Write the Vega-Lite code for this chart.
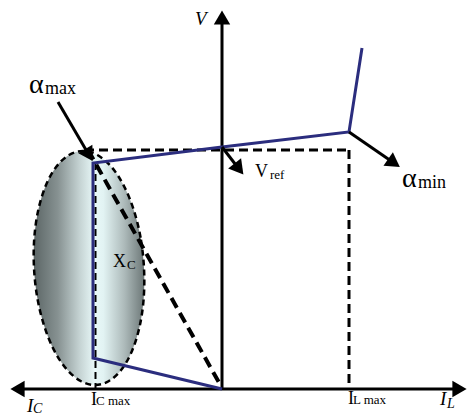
{
  "$schema": "https://vega.github.io/schema/vega-lite/v6.json",
  "width": 467,
  "height": 417,
  "padding": 0,
  "autosize": {"type": "fit", "contains": "padding"},
  "background": "white",
  "config": {"view": {"stroke": null}},
  "datasets": {
    "ellipse": [
      {"o": 0, "x": -78, "y": 121},
      {"o": 1, "x": -81.4, "y": 151.3},
      {"o": 2, "x": -88.4, "y": 179.5},
      {"o": 3, "x": -98.4, "y": 203.7},
      {"o": 4, "x": -110.7, "y": 222.3},
      {"o": 5, "x": -124.6, "y": 234},
      {"o": 6, "x": -139, "y": 238},
      {"o": 7, "x": -153, "y": 234},
      {"o": 8, "x": -165.7, "y": 222.3},
      {"o": 9, "x": -176.1, "y": 203.7},
      {"o": 10, "x": -183.6, "y": 179.5},
      {"o": 11, "x": -187.7, "y": 151.3},
      {"o": 12, "x": -188, "y": 121},
      {"o": 13, "x": -184.6, "y": 90.7},
      {"o": 14, "x": -177.6, "y": 62.5},
      {"o": 15, "x": -167.7, "y": 38.3},
      {"o": 16, "x": -155.3, "y": 19.7},
      {"o": 17, "x": -141.4, "y": 8},
      {"o": 18, "x": -127, "y": 4},
      {"o": 19, "x": -113, "y": 8},
      {"o": 20, "x": -100.3, "y": 19.7},
      {"o": 21, "x": -89.9, "y": 38.3},
      {"o": 22, "x": -82.4, "y": 62.5},
      {"o": 23, "x": -78.3, "y": 90.7}
    ],
    "dashed": [
      {"seg": "vref", "o": 0, "x": -137, "y": 239},
      {"seg": "vref", "o": 1, "x": 127, "y": 239},
      {"seg": "ilmax", "o": 0, "x": 127, "y": 239},
      {"seg": "ilmax", "o": 1, "x": 127, "y": 0}
    ],
    "thindashed": [
      {"seg": "icmax", "o": 0, "x": -126.5, "y": 226},
      {"seg": "icmax", "o": 1, "x": -126.5, "y": 0}
    ],
    "diagonal": [
      {"o": 0, "x": -134, "y": 239},
      {"o": 1, "x": -1, "y": 3}
    ],
    "axes": [
      {"seg": "I", "o": 0, "x": -200, "y": 0},
      {"seg": "I", "o": 1, "x": 232, "y": 0},
      {"seg": "V", "o": 0, "x": 0, "y": 0},
      {"seg": "V", "o": 1, "x": 0, "y": 366}
    ],
    "characteristic": [
      {"o": 0, "x": 0, "y": 0},
      {"o": 1, "x": -129, "y": 31},
      {"o": 2, "x": -129, "y": 226},
      {"o": 3, "x": 0, "y": 242},
      {"o": 4, "x": 127, "y": 257},
      {"o": 5, "x": 140, "y": 341}
    ],
    "shafts": [
      {"seg": "amax", "o": 0, "x": -164, "y": 287},
      {"seg": "amax", "o": 1, "x": -133, "y": 234},
      {"seg": "vref", "o": 0, "x": 0, "y": 242},
      {"seg": "vref", "o": 1, "x": 17, "y": 220},
      {"seg": "amin", "o": 0, "x": 127, "y": 257},
      {"seg": "amin", "o": 1, "x": 172, "y": 226}
    ],
    "heads": [
      {"x": -204.5, "y": 0, "angle": 270},
      {"x": 237.5, "y": 0, "angle": 90},
      {"x": 0, "y": 371.5, "angle": 0},
      {"x": -133, "y": 234, "angle": 149},
      {"x": 17, "y": 220, "angle": 142},
      {"x": 172, "y": 226, "angle": 125}
    ],
    "labels": [
      {"role": "big", "label": "α", "x": -193, "y": 296},
      {"role": "sub", "label": "max", "x": -177, "y": 295},
      {"role": "big", "label": "α", "x": 180, "y": 202},
      {"role": "sub", "label": "min", "x": 196, "y": 201},
      {"role": "mid", "label": "V", "x": 33, "y": 212},
      {"role": "small", "label": "ref", "x": 48, "y": 210},
      {"role": "mid", "label": "X", "x": -109, "y": 122},
      {"role": "small", "label": "C", "x": -95, "y": 120},
      {"role": "ital", "label": "V", "x": -27, "y": 364},
      {"role": "ital", "label": "I", "x": -195, "y": -23},
      {"role": "italsub", "label": "C", "x": -189, "y": -24},
      {"role": "mid", "label": "I", "x": -131, "y": -16},
      {"role": "small", "label": "C  max", "x": -126, "y": -16},
      {"role": "mid", "label": "I", "x": 126, "y": -15},
      {"role": "small", "label": "L max", "x": 131, "y": -15},
      {"role": "ital", "label": "I", "x": 218, "y": -16},
      {"role": "italsub", "label": "L", "x": 225, "y": -19}
    ]
  },
  "encoding": {
    "x": {"field": "x", "type": "quantitative", "axis": null, "scale": {"domain": [-222, 245], "nice": false, "zero": false}},
    "y": {"field": "y", "type": "quantitative", "axis": null, "scale": {"domain": [-28, 389], "nice": false, "zero": false}}
  },
  "layer": [
    {
      "data": {"name": "ellipse"},
      "mark": {
        "type": "line",
        "interpolate": "cardinal-closed",
        "strokeWidth": 0,
        "fill": {
          "gradient": "linear", "x1": 0, "x2": 1, "y1": 0, "y2": 0,
          "stops": [
            {"offset": 0, "color": "#5c6666"},
            {"offset": 0.22, "color": "#879292"},
            {"offset": 0.42, "color": "#c6d4d4"},
            {"offset": 0.55, "color": "#e8f8f8"},
            {"offset": 0.63, "color": "#e2f3f3"},
            {"offset": 0.82, "color": "#adbaba"},
            {"offset": 1, "color": "#6c7777"}
          ]
        }
      },
      "encoding": {"order": {"field": "o"}}
    },
    {
      "data": {"name": "ellipse"},
      "mark": {"type": "line", "interpolate": "cardinal-closed", "color": "black", "strokeWidth": 2.5, "strokeDash": [6, 4]},
      "encoding": {"order": {"field": "o"}}
    },
    {
      "data": {"name": "dashed"},
      "mark": {"type": "line", "color": "black", "strokeWidth": 3, "strokeDash": [9, 5]},
      "encoding": {"detail": {"field": "seg"}, "order": {"field": "o"}}
    },
    {
      "data": {"name": "thindashed"},
      "mark": {"type": "line", "color": "black", "strokeWidth": 2, "strokeDash": [7, 4]},
      "encoding": {"detail": {"field": "seg"}, "order": {"field": "o"}}
    },
    {
      "data": {"name": "diagonal"},
      "mark": {"type": "line", "color": "black", "strokeWidth": 4, "strokeDash": [11, 6]},
      "encoding": {"order": {"field": "o"}}
    },
    {
      "data": {"name": "axes"},
      "mark": {"type": "line", "color": "black", "strokeWidth": 3},
      "encoding": {"detail": {"field": "seg"}, "order": {"field": "o"}}
    },
    {
      "data": {"name": "characteristic"},
      "mark": {"type": "line", "color": "#2b2d7e", "strokeWidth": 3},
      "encoding": {"order": {"field": "o"}}
    },
    {
      "data": {"name": "shafts"},
      "mark": {"type": "line", "color": "black", "strokeWidth": 3},
      "encoding": {"detail": {"field": "seg"}, "order": {"field": "o"}}
    },
    {
      "data": {"name": "heads"},
      "mark": {"type": "point", "shape": "triangle-up", "filled": true, "color": "black", "opacity": 1, "size": 270},
      "encoding": {"angle": {"field": "angle", "type": "quantitative", "scale": null}}
    },
    {
      "data": {"name": "labels"},
      "transform": [{"filter": "datum.role == 'big'"}],
      "mark": {"type": "text", "align": "left", "baseline": "alphabetic", "font": "Liberation Serif", "fontSize": 28, "color": "black"},
      "encoding": {"text": {"field": "label"}}
    },
    {
      "data": {"name": "labels"},
      "transform": [{"filter": "datum.role == 'sub'"}],
      "mark": {"type": "text", "align": "left", "baseline": "alphabetic", "font": "Liberation Serif", "fontSize": 18, "color": "black"},
      "encoding": {"text": {"field": "label"}}
    },
    {
      "data": {"name": "labels"},
      "transform": [{"filter": "datum.role == 'mid'"}],
      "mark": {"type": "text", "align": "left", "baseline": "alphabetic", "font": "Liberation Serif", "fontSize": 18, "color": "black"},
      "encoding": {"text": {"field": "label"}}
    },
    {
      "data": {"name": "labels"},
      "transform": [{"filter": "datum.role == 'small'"}],
      "mark": {"type": "text", "align": "left", "baseline": "alphabetic", "font": "Liberation Serif", "fontSize": 13, "color": "black"},
      "encoding": {"text": {"field": "label"}}
    },
    {
      "data": {"name": "labels"},
      "transform": [{"filter": "datum.role == 'ital'"}],
      "mark": {"type": "text", "align": "left", "baseline": "alphabetic", "font": "Liberation Serif", "fontStyle": "italic", "fontSize": 19, "color": "black"},
      "encoding": {"text": {"field": "label"}}
    },
    {
      "data": {"name": "labels"},
      "transform": [{"filter": "datum.role == 'italsub'"}],
      "mark": {"type": "text", "align": "left", "baseline": "alphabetic", "font": "Liberation Serif", "fontStyle": "italic", "fontSize": 14, "color": "black"},
      "encoding": {"text": {"field": "label"}}
    }
  ]
}
